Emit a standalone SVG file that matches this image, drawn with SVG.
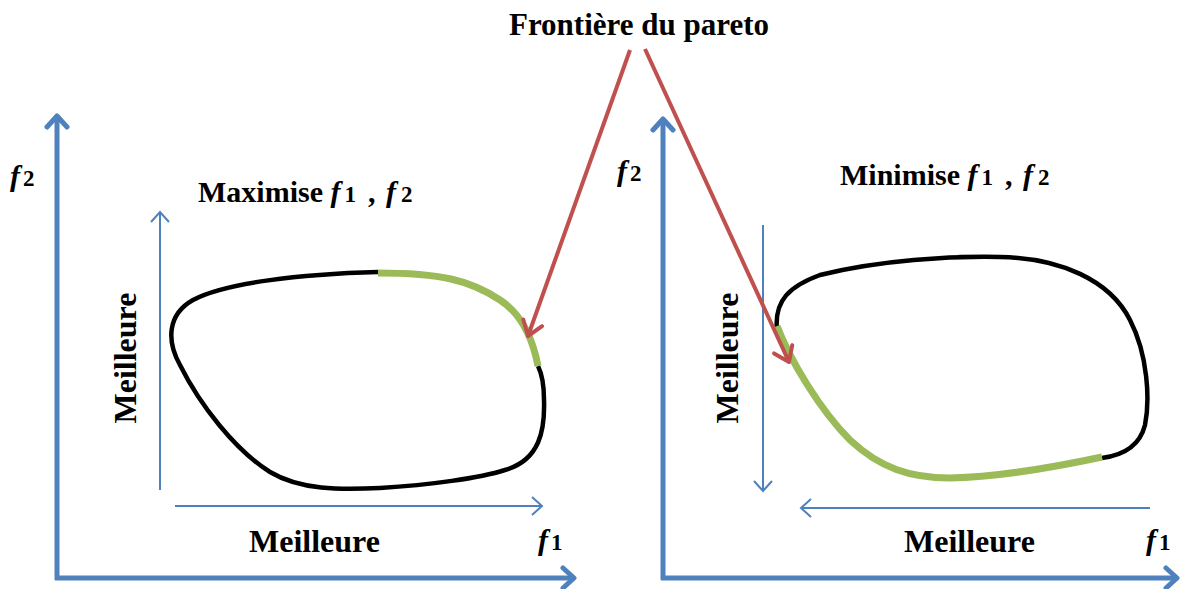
<svg xmlns="http://www.w3.org/2000/svg" width="1182" height="589" viewBox="0 0 1182 589">
<style>
.big{stroke:#4f81bd;stroke-width:5;fill:none}
.small{stroke:#4f81bd;stroke-width:2;fill:none}
.red{stroke:#c0504d;stroke-width:4;fill:none}
.blob{stroke:#000;stroke-width:4.5;fill:none}
.green{stroke:#9bbb59;stroke-width:7;fill:none}
.t{font-family:"Liberation Serif",serif;font-weight:bold;font-size:30px;fill:#000}
.m{font-size:32px}
.ti{font-size:31px}
.f{font-style:italic}
.s{font-style:normal;font-size:23px}
</style>
<defs>
<marker id="mb" markerUnits="userSpaceOnUse" viewBox="-14 -14 28 28" markerWidth="28" markerHeight="28" refX="0" refY="0" orient="auto">
<path d="M-11,-10 L0,0 L-11,10" stroke="#4f81bd" stroke-width="5" fill="none" stroke-linecap="round" stroke-linejoin="round"/>
</marker>
<marker id="ms" markerUnits="userSpaceOnUse" viewBox="-14 -14 28 28" markerWidth="28" markerHeight="28" refX="0" refY="0" orient="auto">
<path d="M-10,-9 L0,0 L-10,9" stroke="#4f81bd" stroke-width="2" fill="none"/>
</marker>
<marker id="mr" markerUnits="userSpaceOnUse" viewBox="-16 -16 32 32" markerWidth="32" markerHeight="32" refX="0" refY="0" orient="auto">
<path d="M-14,-10 L0,0 L-14,10" stroke="#c0504d" stroke-width="4" fill="none" stroke-linecap="round" stroke-linejoin="round"/>
</marker>
</defs>
<g id="left-chart">
<path class="big" d="M57,580 L57,116" marker-end="url(#mb)"/>
<path class="big" d="M55,578 L574,578" marker-end="url(#mb)"/>
<path class="small" d="M160,490 L160,212" marker-end="url(#ms)"/>
<path class="small" d="M175,506 L542,506" marker-end="url(#ms)"/>
<path class="blob" d="M378,272 C300,274 225,283 193,300 C168,314 166,340 180,365 C200,405 235,450 270,472 C300,490 340,490 380,488 C430,485 480,478 505,470 C540,460 545,430 544,400 C544,385 542,374 538,366"/>
<path class="green" d="M378,273 C440,273 470,280 500,300 C520,313 532,335 538,366"/>
<text class="t f" x="10" y="186">f<tspan class="s" dx="3">2</tspan></text>
<text class="t f" x="538" y="550">f<tspan class="s" dx="3">1</tspan></text>
<text class="t" x="198" y="202">Maximise <tspan class="f">f</tspan><tspan class="s" dx="4">1</tspan><tspan dx="12">,</tspan> <tspan class="f" dx="3">f</tspan><tspan class="s" dx="5">2</tspan></text>
<text class="t m" x="249" y="552">Meilleure</text>
<text class="t m" transform="translate(136,358) rotate(-90)" text-anchor="middle">Meilleure</text>
</g>
<g id="right-chart">
<path class="big" d="M663,580 L663,119" marker-end="url(#mb)"/>
<path class="big" d="M661,578 L1177,578" marker-end="url(#mb)"/>
<path class="small" d="M763,225 L763,491" marker-end="url(#ms)"/>
<path class="small" d="M1150,508 L801,508" marker-end="url(#ms)"/>
<path class="blob" d="M777,330 C774,300 790,286 820,275 C880,260 950,256 1000,257 C1060,258 1110,280 1130,320 C1148,355 1150,400 1145,425 C1140,445 1125,455 1102,458"/>
<path class="green" d="M777,326 C790,360 820,410 850,440 C880,468 910,478 950,478 C1000,477 1060,466 1102,457"/>
<text class="t f" x="617" y="181">f<tspan class="s" dx="3">2</tspan></text>
<text class="t f" x="1146" y="550">f<tspan class="s" dx="3">1</tspan></text>
<text class="t" x="840" y="185">Minimise <tspan class="f">f</tspan><tspan class="s" dx="4">1</tspan><tspan dx="12">,</tspan> <tspan class="f" dx="3">f</tspan><tspan class="s" dx="5">2</tspan></text>
<text class="t m" x="904" y="552">Meilleure</text>
<text class="t m" transform="translate(738,358) rotate(-90)" text-anchor="middle">Meilleure</text>
</g>
<g id="pareto-label">
<text class="t ti" x="639" y="35" text-anchor="middle">Frontière du pareto</text>
</g>
<g id="connectors">
<path class="red" d="M630,50 L528,336" marker-end="url(#mr)"/>
<path class="red" d="M645,49 L789,362" marker-end="url(#mr)"/>
</g>
</svg>
